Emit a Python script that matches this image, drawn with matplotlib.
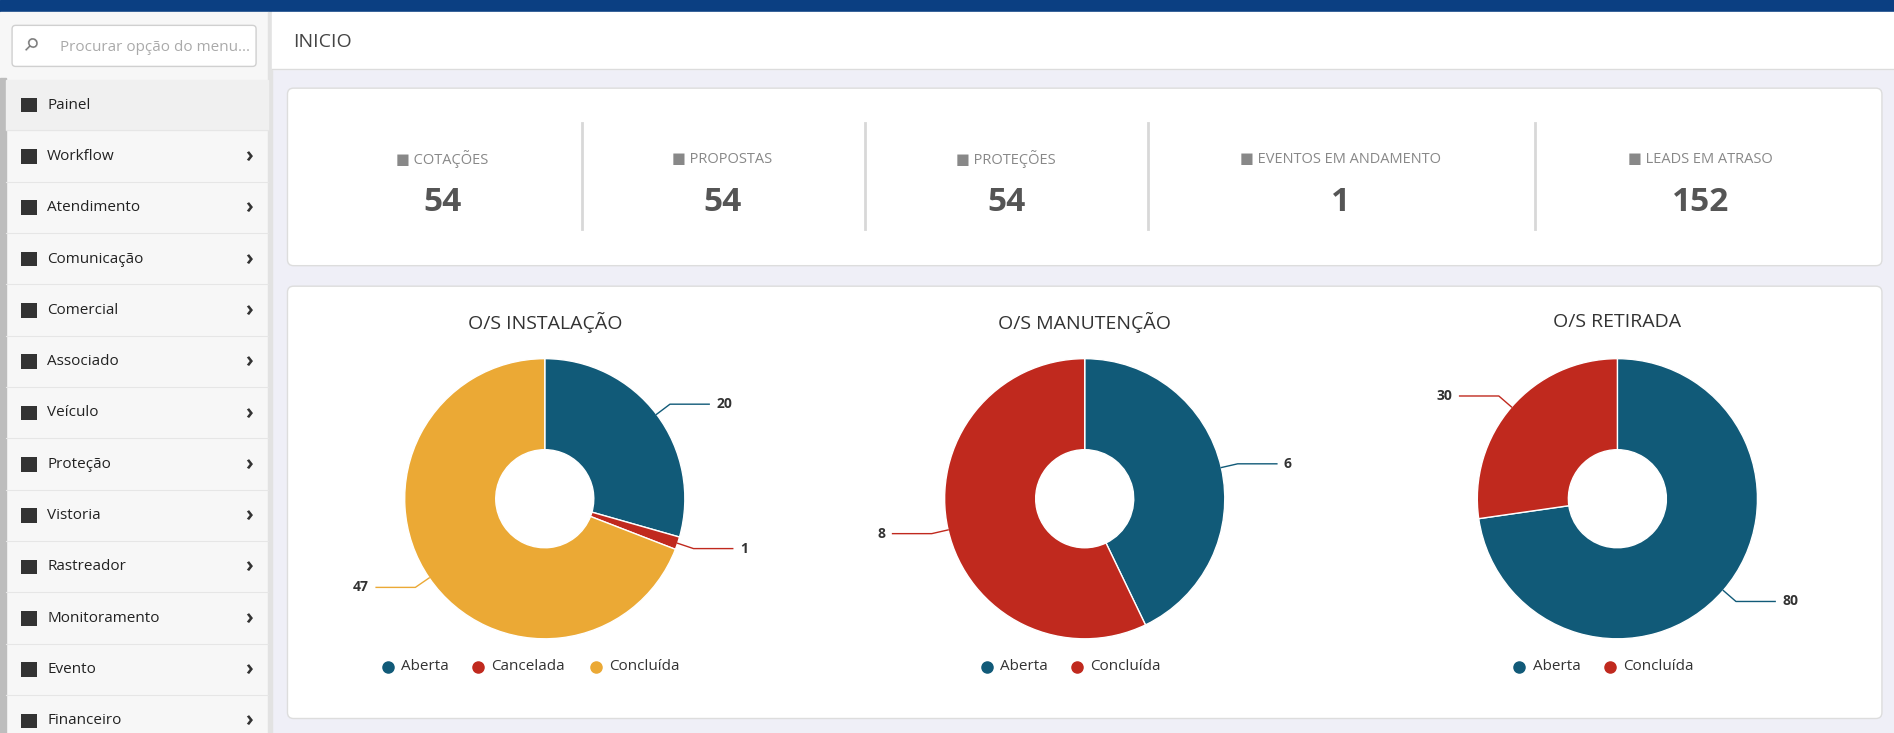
import matplotlib
matplotlib.use("Agg")
import matplotlib.pyplot as plt
from matplotlib.patches import FancyBboxPatch, Rectangle
import numpy as np

plt.rcParams['font.family'] = ['Open Sans', 'DejaVu Sans']

menu_items = ["Painel", "Workflow", "Atendimento", "Comunicação", "Comercial", "Associado",
              "Veículo", "Proteção", "Vistoria", "Rastreador", "Monitoramento", "Evento", "Financeiro"]
kpi_labels = ["COTAÇÕES", "PROPOSTAS", "PROTEÇÕES", "EVENTOS EM ANDAMENTO", "LEADS EM ATRASO"]
kpi_values = [54, 54, 54, 1, 152]
chart_titles = ["O/S INSTALAÇÃO", "O/S MANUTENÇÃO", "O/S RETIRADA"]
chart_cats = [["Aberta", "Cancelada", "Concluída"], ["Aberta", "Concluída"], ["Aberta", "Concluída"]]
chart_vals = [[20, 1, 47], [6, 8], [80, 30]]
BLUE, RED, YEL = "#115a78", "#c0291e", "#eba935"
chart_colors = [[BLUE, RED, YEL], [BLUE, RED], [BLUE, RED]]

W, H = 1568, 607
fig = plt.figure(figsize=(18.94, 7.33), dpi=100)
fig.patch.set_facecolor("#efeff7")
ax = fig.add_axes([0, 0, 1, 1])
ax.set_xlim(0, W); ax.set_ylim(H, 0); ax.axis("off")

ax.add_patch(Rectangle((0, 0), W, 10, color="#0b3f82"))
ax.add_patch(Rectangle((0, 10), 222, H, color="#f7f7f7"))
ax.add_patch(Rectangle((222, 10), 3, H, color="#e2e2e2"))
ax.add_patch(Rectangle((0, 65), 5, H, color="#bdbdbd"))
ax.add_patch(FancyBboxPatch((10, 21), 202, 34, boxstyle="round,pad=0,rounding_size=3",
                            fc="white", ec="#d0d0d0", lw=1))
ax.text(24, 38, "⚲", fontsize=13, color="#777", va="center", ha="center", rotation=-45)
ax.text(50, 39, "Procurar opção do menu...", fontsize=11, color="#aaa", va="center")
for i, m in enumerate(menu_items):
    y = 87 + i * 42.5
    if i == 0:
        ax.add_patch(Rectangle((5, y - 21), 217, 42, color="#f0f0f0"))
    ax.add_patch(Rectangle((17, y - 6), 14, 12, fc="#333", ec="none"))
    ax.text(39, y, m, fontsize=11, color="#222", va="center")
    if i > 0:
        ax.text(206, y, "›", fontsize=15, color="#333", va="center", ha="center", fontweight="bold")
    ax.plot([5, 222], [y + 21, y + 21], color="#e6e6e6", lw=0.8)

ax.add_patch(Rectangle((225, 10), W - 225, 47, color="white"))
ax.plot([225, W], [57, 57], color="#dcdcdc", lw=1)
ax.text(243, 35, "INICIO", fontsize=14, color="#444", va="center")

ax.add_patch(FancyBboxPatch((238, 73), 1320, 147, boxstyle="round,pad=0,rounding_size=5",
                            fc="white", ec="#dddddd", lw=1))
ax.add_patch(FancyBboxPatch((238, 237), 1320, 358, boxstyle="round,pad=0,rounding_size=5",
                            fc="white", ec="#dddddd", lw=1))
kx = [366, 598, 833, 1110, 1408]
for i, (lab, v) in enumerate(zip(kpi_labels, kpi_values)):
    ax.text(kx[i], 132, "■ " + lab, fontsize=10.5, color="#888", ha="center", va="center")
    ax.text(kx[i], 168, str(v), fontsize=24, color="#555", ha="center", va="center", fontweight="bold")
for sx in [482, 716, 950, 1271]:
    ax.plot([sx, sx], [102, 190], color="#d8d8d8", lw=2)

centers = [451, 898, 1339]
cy = 413
for k in range(3):
    cx = centers[k]
    ax.text(cx, 267, chart_titles[k], fontsize=14, color="#333", ha="center", va="center")
    size = 290
    pax = fig.add_axes([(cx - size / 2) / W, 1 - (cy + size / 2) / H, size / W, size / H])
    pax.set_xlim(-1.3, 1.3); pax.set_ylim(-1.3, 1.3); pax.set_aspect("equal"); pax.axis("off")
    vals = chart_vals[k]; cats = chart_cats[k]; cols = chart_colors[k]
    wedges, _ = pax.pie(vals, colors=cols, startangle=90, counterclock=False,
                        radius=1, wedgeprops=dict(width=0.65, edgecolor="white", linewidth=1))
    for w, v, col in zip(wedges, vals, cols):
        ang = np.deg2rad((w.theta1 + w.theta2) / 2)
        x0, y0 = np.cos(ang), np.sin(ang)
        x1, y1 = 1.12 * x0, 1.12 * y0
        d = 1 if x0 >= 0 else -1
        x2 = x1 + d * 0.28
        pax.plot([x0, x1, x2], [y0, y1, y1], color=col, lw=1, clip_on=False)
        pax.text(x2 + d * 0.05, y1, str(v), fontsize=10, fontweight="bold", color="#333",
                 ha="left" if d > 0 else "right", va="center", clip_on=False)
    widths = [len(c) * 7.5 + 30 for c in cats]
    x = cx - sum(widths) / 2
    for c, col, wd in zip(cats, cols, widths):
        ax.plot(x + 5, 552, "o", color=col, ms=8)
        ax.text(x + 16, 552, c, fontsize=11, color="#333", va="center")
        x += wd

fig.savefig("out.png", dpi=100, facecolor=fig.get_facecolor())
